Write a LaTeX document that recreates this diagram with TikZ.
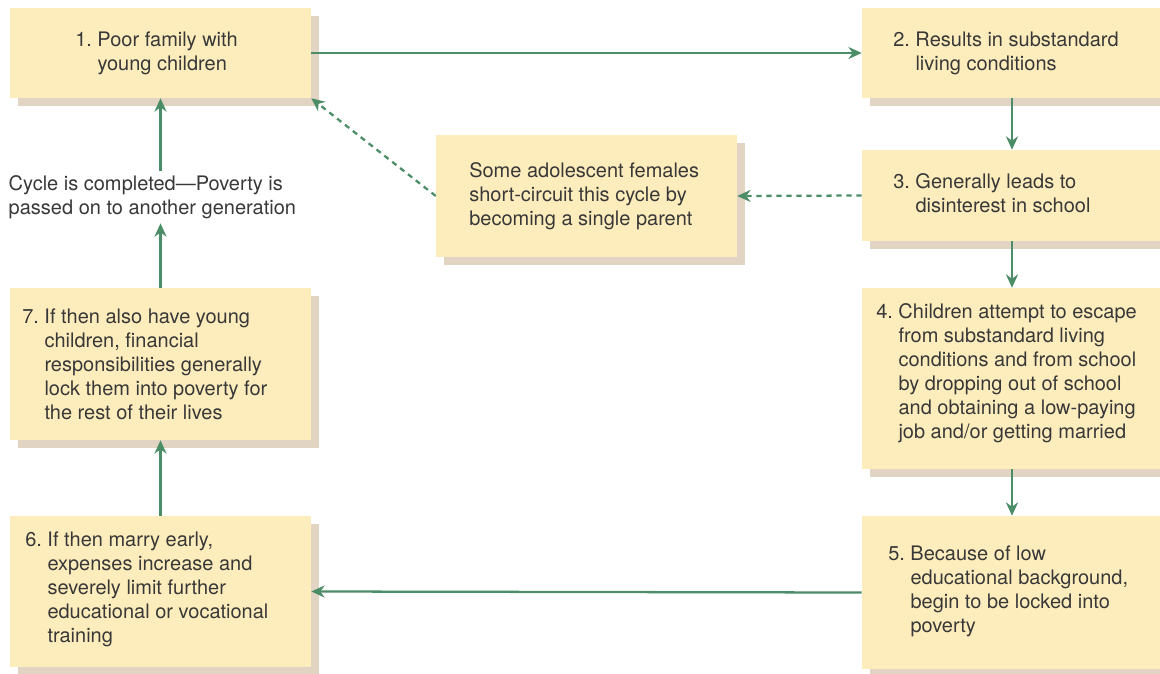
\documentclass[tikz,border=0pt]{standalone}
\usepackage{fontspec}
\setmainfont{TeX Gyre Heros}
\usetikzlibrary{arrows.meta,shadows}
\definecolor{boxfill}{HTML}{FEEDBC}
\definecolor{boxshade}{HTML}{E2D4C3}
\definecolor{arrowc}{HTML}{4B8D66}
\definecolor{textc}{HTML}{383838}
\newcommand\indt{\hphantom{0.\ }}
\begin{document}
\begin{tikzpicture}[x=0.75pt, y=-0.75pt,
    >={Stealth[length=10pt,width=9pt]},
    font=\fontsize{15}{18}\selectfont,
    stepbox/.style={fill=boxfill, inner sep=0pt,
        general shadow={fill=boxshade, shadow xshift=6pt, shadow yshift=-6pt}},
    steptext/.style={text=textc, align=left, inner sep=0pt, anchor=west},
    flow/.style={->, draw=arrowc, line width=1.7pt},
    shortcut/.style={flow, dash pattern=on 4pt off 3.5pt}]
    \useasboundingbox (0,0) rectangle (1160,674);
    % boxes
    \node[stepbox, minimum width=225.75pt, minimum height=67.5pt] (b1) at (160.5,53) {};
    \node[stepbox, minimum width=225pt, minimum height=67.5pt] (b2) at (1012,53) {};
    \node[stepbox, minimum width=225pt, minimum height=68.25pt] (b3) at (1012,195.5) {};
    \node[stepbox, minimum width=225pt, minimum height=135.75pt] (b4) at (1012,378.5) {};
    \node[stepbox, minimum width=225pt, minimum height=114.75pt] (b5) at (1012,592.5) {};
    \node[stepbox, minimum width=225.75pt, minimum height=113.25pt] (b6) at (160.5,591.5) {};
    \node[stepbox, minimum width=225.75pt, minimum height=114pt] (b7) at (160.5,364) {};
    \node[stepbox, minimum width=225.75pt, minimum height=91.5pt] (mid) at (586.5,196) {};
    % texts
    \node[steptext] (t1) at (75,53.5) {1.\ Poor family with\\\indt young children};
    \node[steptext] (t2) at (893,53.5) {2.\ Results in substandard\\\indt living conditions};
    \node[steptext] (t3) at (893,193.5) {3.\ Generally leads to\\\indt disinterest in school};
    \node[steptext] (t4) at (876,373.5)
        {4.\ Children attempt to escape\\\indt from substandard living\\\indt conditions and from school\\\indt by dropping out of school\\\indt and obtaining a low-paying\\\indt job and/or getting married};
    \node[steptext] (t5) at (888,591.5)
        {5.\ Because of low\\\indt educational background,\\\indt begin to be locked into\\\indt poverty};
    \node[steptext] (t6) at (25,589.5)
        {6.\ If then marry early,\\\indt expenses increase and\\\indt severely limit further\\\indt educational or vocational\\\indt training};
    \node[steptext] (t7) at (22,364.5)
        {7.\ If then also have young\\\indt children, financial\\\indt responsibilities generally\\\indt lock them into poverty for\\\indt the rest of their lives};
    \node[steptext] (tm) at (469,196.5)
        {Some adolescent females\\short-circuit this cycle by\\becoming a single parent};
    \node[text=textc, align=left, anchor=west] (cyc) at (4,197)
        {Cycle is completed---Poverty is\\passed on to another generation};
    % connectors
    \draw[flow] (b1.east) -- (b2.west);
    \draw[flow] (b2.south) -- (b3.north);
    \draw[flow] (b3.south) -- (b4.north);
    \draw[flow] (b4.south) -- (b5.north);
    \draw[flow] (b5.west) -- (b6.east);
    \draw[flow] (b6.north) -- (b7.south);
    \draw[flow] (b7.north) -- (b7.north |- cyc.south);
    \draw[flow] (b1.south |- cyc.north) -- (b1.south);
    \draw[shortcut] (b3.west) -- (mid.east);
    \draw[shortcut] (mid.west) -- (b1.south east);
\end{tikzpicture}
\end{document}
